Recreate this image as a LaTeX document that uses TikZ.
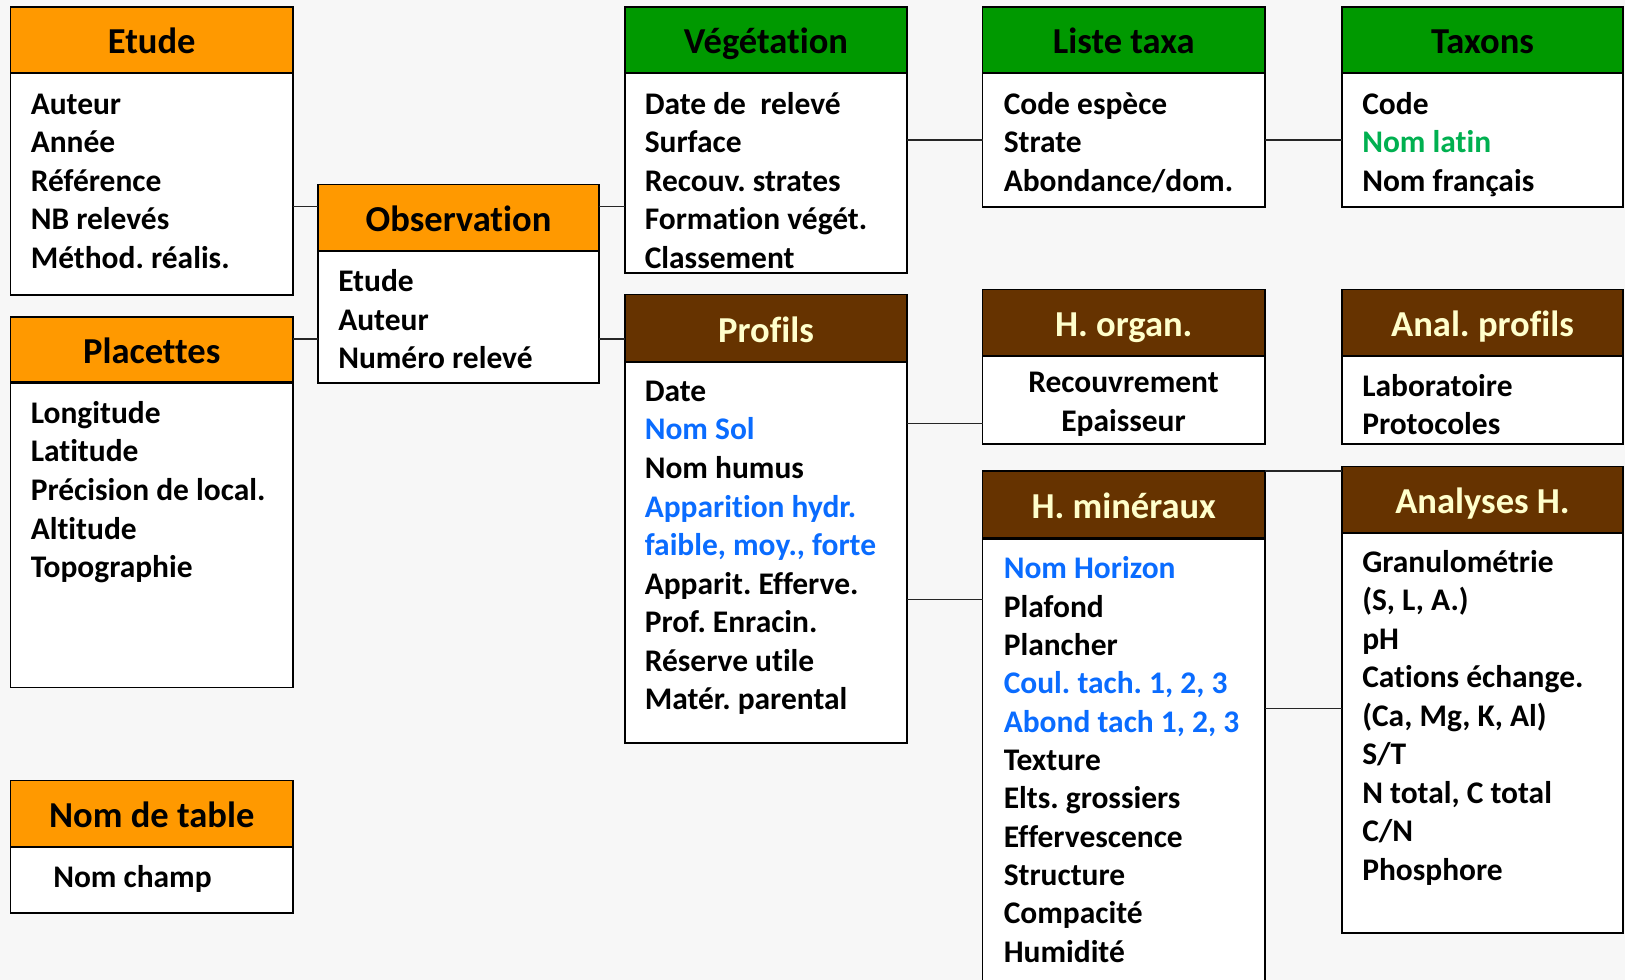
\documentclass[tikz,border=0pt]{standalone}
\usepackage{fontspec}
\setmainfont{Carlito}[Ligatures=NoCommon]
\frenchspacing
\definecolor{bg}{HTML}{F7F7F7}
\definecolor{orangeh}{HTML}{FF9900}
\definecolor{greenh}{HTML}{009900}
\definecolor{brownh}{HTML}{663300}
\definecolor{cream}{HTML}{FFFFCC}
\definecolor{bluet}{HTML}{0A6CFF}
\definecolor{greent}{HTML}{00B050}
\tikzset{
  boxhd/.style={draw=black, line width=1.1pt, anchor=north west, inner sep=0pt, outer sep=0pt},
  boxbd/.style={draw=black, line width=1.1pt, fill=white, anchor=north west, inner sep=0pt, outer sep=0pt},
  sepline/.style={line width=2.2pt, black},
  conn/.style={line width=1.1pt, black!85},
  ttl/.style={anchor=base, inner sep=0pt, font=\frenchspacing\fontsize{27.4pt}{32pt}\selectfont\bfseries},
  fld/.style={anchor=base west, inner sep=0pt, yshift=-0.9pt, font=\frenchspacing\fontsize{23.6pt}{28pt}\selectfont\bfseries},
  fldc/.style={anchor=base, inner sep=0pt, yshift=-0.9pt, font=\frenchspacing\fontsize{23.6pt}{28pt}\selectfont\bfseries},
  blu/.style={text=bluet},
}
\newcommand\tablebox[9]{%
  \node[boxhd, fill=#7, minimum width={(#3-#2)*0.75pt}, minimum height={(#5-#4)*0.75pt}] (#1h) at (#2,#4) {};
  \node[boxbd, minimum width={(#3-#2)*0.75pt}, minimum height={(#6-#5)*0.75pt}] (#1b) at (#2,#5) {};
  \draw[sepline] (#1h.south west) -- (#1h.south east);
  \node[ttl, #8] (#1t) at ({(#2+#3)/2},{(#4+#5)/2+14}) {#9};
}
\newcommand\fld[4]{\node[fld] (#1) at (#2,#3) {#4};}
\begin{document}
\begin{tikzpicture}[x=0.75pt, y=-0.75pt]
\fill[bg] (0,0) rectangle (1625,980);
\useasboundingbox (0,0) rectangle (1625,980);
\clip (0,0) rectangle (1625,980);

% tables
\tablebox{etude}{10.5}{293}{7}{73}{295}{orangeh}{text=black}{Etude}
\tablebox{plac}{10.5}{293}{317}{382.5}{687.5}{orangeh}{text=black}{Placettes}
\tablebox{obs}{318}{599}{184.5}{251}{383}{orangeh}{text=black}{Observation}
\tablebox{nomt}{10.5}{293}{780.5}{847}{913}{orangeh}{text=black}{Nom de table}
\tablebox{veg}{625}{907}{7}{73}{273}{greenh}{text=black}{Végétation}
\tablebox{liste}{982.5}{1265}{7}{73}{207}{greenh}{text=black}{Liste taxa}
\tablebox{tax}{1342}{1623}{7}{73}{207}{greenh}{text=black}{Taxons}
\tablebox{prof}{625}{907}{294.5}{362}{743}{brownh}{text=cream}{Profils}
\tablebox{horg}{982.5}{1265}{289.5}{356}{444}{brownh}{text=cream}{H. organ.}
\tablebox{anp}{1342}{1623}{289.5}{356}{444}{brownh}{text=cream}{Anal. profils}
\tablebox{hmin}{982.5}{1265}{471}{538.5}{1000}{brownh}{text=cream}{H. minéraux}
\tablebox{anh}{1342}{1623}{466.5}{533}{933}{brownh}{text=cream}{Analyses H.}

% Etude
\fld{e1}{30.5}{113.3}{Auteur}
\fld{e2}{30.5}{151.7}{Année}
\fld{e3}{30.5}{190.2}{Référence}
\fld{e4}{30.5}{228.7}{NB relevés}
\fld{e5}{30.5}{267}{Méthod. réalis.}
% Placettes
\fld{p1}{30.5}{422}{Longitude}
\fld{p2}{30.5}{460.6}{Latitude}
\fld{p3}{30.5}{499.2}{Précision de local.}
\fld{p4}{30.5}{537.8}{Altitude}
\fld{p5}{30.5}{576.4}{Topographie}
% Observation
\fld{o1}{338}{290.7}{Etude}
\fld{o2}{338}{329.3}{Auteur}
\fld{o3}{338}{367}{Numéro relevé}
% Nom de table
\fld{n1}{53}{886}{Nom champ}
% Vegetation
\fld{v1}{644.5}{113.3}{Date de\ \ relevé}
\fld{v2}{644.5}{151.7}{Surface}
\fld{v3}{644.5}{190.2}{Recouv. strates}
\fld{v4}{644.5}{228.7}{Formation végét.}
\fld{v5}{644.5}{267}{Classement}
% Liste taxa
\fld{l1}{1003.5}{113.3}{Code espèce}
\fld{l2}{1003.5}{151.7}{Strate}
\fld{l3}{1003.5}{190.2}{Abondance/dom.}
% Taxons
\fld{t1}{1362}{113.3}{Code}
\node[fld, text=greent] (t2) at (1362,151.7) {Nom latin};
\fld{t3}{1362}{190.2}{Nom français}
% Profils
\fld{r1}{644.5}{400}{Date}
\node[fld, blu] (r2) at (644.5,438.7) {Nom Sol};
\fld{r3}{644.5}{477.3}{Nom humus}
\node[fld, blu] (r4) at (644.5,515.9) {Apparition hydr.};
\node[fld, blu] (r5) at (644.5,554.5) {faible, moy., forte};
\fld{r6}{644.5}{593}{Apparit. Efferve.}
\fld{r7}{644.5}{631.5}{Prof. Enracin.}
\fld{r8}{644.5}{670}{Réserve utile}
\fld{r9}{644.5}{708.5}{Matér. parental}
% H. organ.
\node[fldc] (g1) at (1123.5,391.7) {Recouvrement};
\node[fldc] (g2) at (1123.5,430) {Epaisseur};
% Anal. profils
\fld{a1}{1362}{395}{Laboratoire}
\fld{a2}{1362}{433.3}{Protocoles}
% H. mineraux
\node[fld, blu] (m1) at (1003.5,577.7) {Nom Horizon};
\fld{m2}{1003.5}{616}{Plafond}
\fld{m3}{1003.5}{654.3}{Plancher}
\node[fld, blu] (m4) at (1003.5,692.6) {Coul. tach. 1, 2, 3};
\node[fld, blu] (m5) at (1003.5,731) {Abond tach 1, 2, 3};
\fld{m6}{1003.5}{769.3}{Texture}
\fld{m7}{1003.5}{807.6}{Elts. grossiers}
\fld{m8}{1003.5}{846}{Effervescence}
\fld{m9}{1003.5}{884.3}{Structure}
\fld{m10}{1003.5}{922.6}{Compacité}
\fld{m11}{1003.5}{961}{Humidité}
% Analyses H.
\fld{h1}{1362}{571}{Granulométrie}
\fld{h2}{1362}{609.5}{(S, L, A.)}
\fld{h3}{1362}{648}{pH}
\fld{h4}{1362}{686.5}{Cations échange.}
\fld{h5}{1362}{725}{(Ca, Mg, K, Al)}
\fld{h6}{1362}{763.5}{S/T}
\fld{h7}{1362}{802}{N total, C total}
\fld{h8}{1362}{840.5}{C/N}
\fld{h9}{1362}{879}{Phosphore}

% connectors
\draw[conn] (etudeb.east |- 0,206.7) -- (obsh.west |- 0,206.7);
\draw[conn] (plach.east |- 0,339) -- (obsb.west |- 0,339);
\draw[conn] (obsh.east |- 0,206.7) -- (vegb.west |- 0,206.7);
\draw[conn] (obsb.east |- 0,339) -- (profh.west |- 0,339);
\draw[conn] (vegb.east |- 0,140) -- (listeb.west |- 0,140);
\draw[conn] (listeb.east |- 0,140) -- (taxb.west |- 0,140);
\draw[conn] (profb.east |- 0,423.3) -- (horgb.west |- 0,423.3);
\draw[conn] (profb.east |- 0,599.3) -- (hminb.west |- 0,599.3);
\draw[conn] (hminb.east |- 0,708.4) -- (anhb.west |- 0,708.4);
\draw[conn] (hminh.north east) -- (anhh.west |- hminh.north east);
\end{tikzpicture}
\end{document}
